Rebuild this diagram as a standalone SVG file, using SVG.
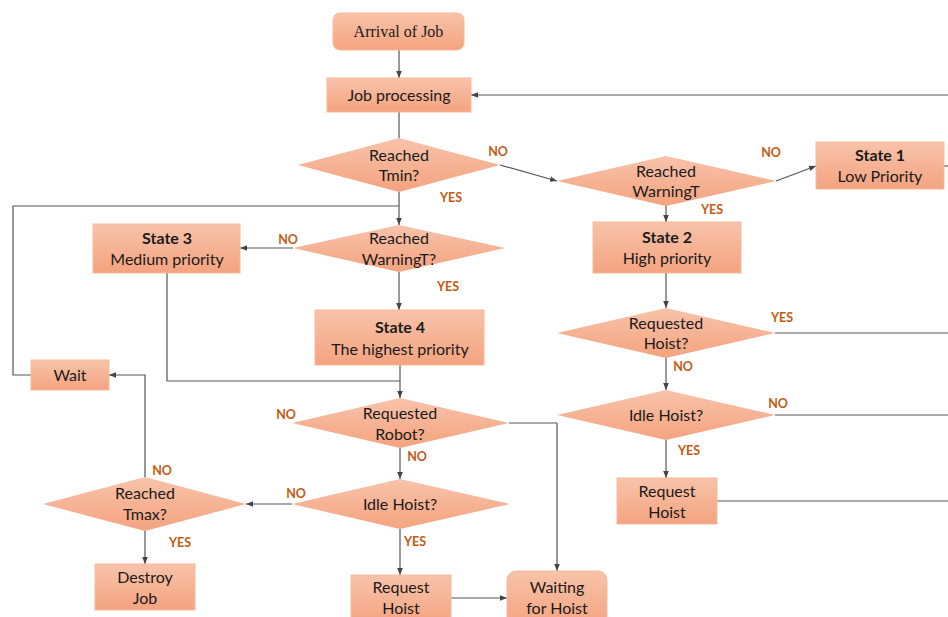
<svg xmlns="http://www.w3.org/2000/svg" width="948" height="617" viewBox="0 0 948 617">
  <defs>
    <linearGradient id="fillGrad" x1="0" y1="0" x2="0" y2="1">
      <stop offset="0" stop-color="#F8C3AA"/>
      <stop offset="1" stop-color="#F4A37F"/>
    </linearGradient>
    <marker id="arrow" viewBox="0 0 10 10" refX="10" refY="5" markerWidth="7" markerHeight="7" markerUnits="userSpaceOnUse" orient="auto">
      <path d="M0,1 L10,5 L0,9 z" fill="#444"/>
    </marker>
    <style>
      .box { fill: url(#fillGrad); stroke: #F7B99B; stroke-width: 1; }
      .dia { fill: url(#fillGrad); stroke: none; }
      .t { font-family: Lato, "Open Sans", sans-serif; font-size: 16px; fill: #1a1a1a; text-anchor: middle; }
      .tb { font-family: Lato, "Open Sans", sans-serif; font-size: 16px; font-weight: bold; fill: #1a1a1a; text-anchor: middle; }
      .ts { font-family: "Liberation Serif", serif; font-size: 16px; fill: #1a1a1a; text-anchor: middle; }
      .lbl { font-family: Lato, "Open Sans", sans-serif; font-size: 12.5px; font-weight: bold; fill: #C55A11; text-anchor: middle; }
      .ln { fill: none; stroke: #555; stroke-width: 1.2; }
      .arr { fill: none; stroke: #555; stroke-width: 1.2; marker-end: url(#arrow); }
    </style>
  </defs>

  <!-- connectors -->
  <g id="connectors">
    <path class="arr" d="M399,50 V78"/>
    <path class="arr" d="M948,95 H471"/>
    <path class="ln" d="M399,112 V138"/>
    <path class="arr" d="M500,165 L557,181"/>
    <path class="arr" d="M776,181 L816,166"/>
    <path class="ln" d="M944,166 H948"/>
    <path class="arr" d="M666,206 V222"/>
    <path class="arr" d="M666,273 V308"/>
    <path class="ln" d="M775,333 H948"/>
    <path class="arr" d="M666,358 V390"/>
    <path class="ln" d="M775,415 H948"/>
    <path class="arr" d="M666,440 V478"/>
    <path class="ln" d="M717,501 H948"/>
    <path class="arr" d="M399,192 V225"/>
    <path class="ln" d="M399,206 H13 V375 H31"/>
    <path class="arr" d="M293,248 H240"/>
    <path class="arr" d="M399,272 V310"/>
    <path class="ln" d="M167,273 V381 H400"/>
    <path class="arr" d="M400,365 V398"/>
    <path class="ln" d="M509,423 H557"/>
    <path class="arr" d="M557,423 V571"/>
    <path class="arr" d="M400,448 V479"/>
    <path class="arr" d="M292,504 H246"/>
    <path class="arr" d="M400,529 V575"/>
    <path class="arr" d="M451,598 H507"/>
    <path class="arr" d="M145,477 V375 H109"/>
    <path class="arr" d="M145,531 V564"/>
  </g>

  <!-- edge labels -->
  <g id="labels">
    <text class="lbl" x="498" y="156">NO</text>
    <text class="lbl" x="451" y="202">YES</text>
    <text class="lbl" x="771" y="157">NO</text>
    <text class="lbl" x="712" y="214">YES</text>
    <text class="lbl" x="288" y="244">NO</text>
    <text class="lbl" x="448" y="291">YES</text>
    <text class="lbl" x="782" y="322">YES</text>
    <text class="lbl" x="683" y="371">NO</text>
    <text class="lbl" x="778" y="408">NO</text>
    <text class="lbl" x="689" y="455">YES</text>
    <text class="lbl" x="286" y="419">NO</text>
    <text class="lbl" x="417" y="461">NO</text>
    <text class="lbl" x="296" y="498">NO</text>
    <text class="lbl" x="415" y="546">YES</text>
    <text class="lbl" x="162" y="475">NO</text>
    <text class="lbl" x="180" y="547">YES</text>
  </g>

  <g id="arrival">
    <rect class="box" x="333" y="13" width="131" height="37" rx="7"/>
    <text class="ts" x="398.5" y="37">Arrival of Job</text>
  </g>
  <g id="job-processing">
    <rect class="box" x="327" y="78" width="144" height="34"/>
    <text class="t" x="399" y="101">Job processing</text>
  </g>
  <g id="reached-tmin">
    <polygon class="dia" points="399,138 500,165 399,192 298,165"/>
    <text class="t" x="399" y="161">Reached</text>
    <text class="t" x="399" y="181">Tmin?</text>
  </g>
  <g id="reached-warning-right">
    <polygon class="dia" points="666,156 776,181 666,206 557,181"/>
    <text class="t" x="666" y="177">Reached</text>
    <text class="t" x="666" y="197">WarningT</text>
  </g>
  <g id="state1">
    <rect class="box" x="816" y="142" width="128" height="47"/>
    <text class="tb" x="880" y="161">State 1</text>
    <text class="t" x="880" y="182">Low Priority</text>
  </g>
  <g id="state2">
    <rect class="box" x="593" y="222" width="148" height="51"/>
    <text class="tb" x="667" y="243">State 2</text>
    <text class="t" x="667" y="264">High priority</text>
  </g>
  <g id="requested-hoist">
    <polygon class="dia" points="666,308 775,333 666,358 557,333"/>
    <text class="t" x="666" y="329">Requested</text>
    <text class="t" x="666" y="349">Hoist?</text>
  </g>
  <g id="idle-hoist-right">
    <polygon class="dia" points="666,390 775,415 666,440 557,415"/>
    <text class="t" x="666" y="421">Idle Hoist?</text>
  </g>
  <g id="request-hoist-right">
    <rect class="box" x="617" y="478" width="100" height="46"/>
    <text class="t" x="667" y="497">Request</text>
    <text class="t" x="667" y="518">Hoist</text>
  </g>
  <g id="reached-warning-left">
    <polygon class="dia" points="399,225 505,248 399,272 293,248"/>
    <text class="t" x="399" y="244">Reached</text>
    <text class="t" x="399" y="265">WarningT?</text>
  </g>
  <g id="state3">
    <rect class="box" x="93" y="224" width="147" height="49"/>
    <text class="tb" x="167" y="244">State 3</text>
    <text class="t" x="167" y="265">Medium priority</text>
  </g>
  <g id="state4">
    <rect class="box" x="315" y="310" width="169" height="55"/>
    <text class="tb" x="400" y="333">State 4</text>
    <text class="t" x="400" y="355">The highest priority</text>
  </g>
  <g id="wait">
    <rect class="box" x="31" y="360" width="78" height="30"/>
    <text class="t" x="70" y="381">Wait</text>
  </g>
  <g id="requested-robot">
    <polygon class="dia" points="400,398 509,423 400,448 292,423"/>
    <text class="t" x="400" y="419">Requested</text>
    <text class="t" x="400" y="440">Robot?</text>
  </g>
  <g id="idle-hoist-left">
    <polygon class="dia" points="400,479 510,504 400,529 292,504"/>
    <text class="t" x="400" y="510">Idle Hoist?</text>
  </g>
  <g id="reached-tmax">
    <polygon class="dia" points="145,477 246,504 145,531 43,504"/>
    <text class="t" x="145" y="499">Reached</text>
    <text class="t" x="145" y="520">Tmax?</text>
  </g>
  <g id="destroy-job">
    <rect class="box" x="95" y="564" width="100" height="46"/>
    <text class="t" x="145" y="583">Destroy</text>
    <text class="t" x="145" y="604">Job</text>
  </g>
  <g id="request-hoist-left">
    <rect class="box" x="351" y="575" width="100" height="50"/>
    <text class="t" x="401" y="593">Request</text>
    <text class="t" x="401" y="614">Hoist</text>
  </g>
  <g id="waiting-for-hoist">
    <rect class="box" x="507" y="571" width="100" height="56" rx="9"/>
    <text class="t" x="557" y="593">Waiting</text>
    <text class="t" x="557" y="614">for Hoist</text>
  </g>
</svg>
